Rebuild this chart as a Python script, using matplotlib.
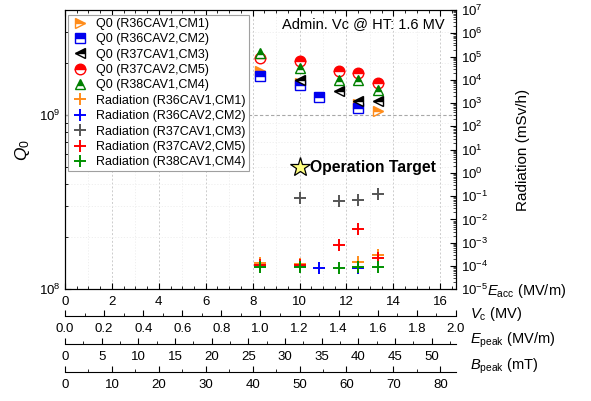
import numpy as np
import matplotlib
matplotlib.use("Agg")
import matplotlib.pyplot as plt
from matplotlib.ticker import FixedLocator, LogLocator, LogFormatterMathtext, NullFormatter, FormatStrFormatter

plt.rcParams['font.family'] = ['Liberation Sans', 'DejaVu Sans']
plt.rcParams['mathtext.fontset'] = 'custom'
plt.rcParams['mathtext.rm'] = 'Liberation Sans'
plt.rcParams['mathtext.it'] = 'Liberation Sans:italic'
plt.rcParams['mathtext.bf'] = 'Liberation Sans:bold'

# ---------------- data ----------------
cav_names = ["R36CAV1,CM1", "R36CAV2,CM2", "R37CAV1,CM3", "R37CAV2,CM5", "R38CAV1,CM4"]

q0_eacc_cm1 = [8.33, 10.0, 12.5, 13.33]
q0_cm1 = [1.78e9, 1.53e9, 1.15e9, 1.06e9]
q0_eacc_cm2 = [8.33, 10.0, 10.83, 12.5]
q0_cm2 = [1.67e9, 1.48e9, 1.26e9, 1.09e9]
q0_eacc_cm3 = [10.0, 11.67, 12.5, 13.33]
q0_cm3 = [1.58e9, 1.38e9, 1.20e9, 1.20e9]
q0_eacc_cm5 = [8.33, 10.0, 11.67, 12.5, 13.33]
q0_cm5 = [2.12e9, 2.05e9, 1.78e9, 1.74e9, 1.53e9]
q0_eacc_cm4 = [8.33, 10.0, 11.67, 12.5, 13.33]
q0_cm4 = [2.27e9, 1.86e9, 1.58e9, 1.58e9, 1.40e9]

rad_eacc_cm1 = [8.33, 10.0, 12.5, 13.33]
rad_cm1 = [1.35e-4, 1.25e-4, 1.5e-4, 2.9e-4]
rad_eacc_cm2 = [8.33, 10.0, 10.83, 12.5]
rad_cm2 = [1.15e-4, 1.0e-4, 8.0e-5, 8.6e-5]
rad_eacc_cm3 = [10.0, 11.67, 12.5, 13.33]
rad_cm3 = [0.085, 0.063, 0.072, 0.13]
rad_eacc_cm5 = [8.33, 10.0, 11.67, 12.5, 13.33]
rad_cm5 = [1.07e-4, 1.07e-4, 8.3e-4, 4.0e-3, 2.3e-4]
rad_eacc_cm4 = [8.33, 10.0, 11.67, 12.5, 13.33]
rad_cm4 = [9.0e-5, 9.0e-5, 8.5e-5, 8.8e-5, 9.0e-5]

target_eacc = 10.0
target_q0 = 5e8
target_label = "Operation Target"
admin_text = "Admin. Vc @ HT: 1.6 MV"

# axis tick values
eacc_ticks = [0, 2, 4, 6, 8, 10, 12, 14, 16]
vc_ticks = [0.0, 0.2, 0.4, 0.6, 0.8, 1.0, 1.2, 1.4, 1.6, 1.8, 2.0]
epk_ticks = [0, 5, 10, 15, 20, 25, 30, 35, 40, 45, 50]
bpk_ticks = [0, 10, 20, 30, 40, 50, 60, 70, 80]
q0_ticks = [1e8, 1e9]
rad_ticks = [1e-5, 1e-4, 1e-3, 1e-2, 1e-1, 1e0, 1e1, 1e2, 1e3, 1e4, 1e5, 1e6, 1e7]

# conversion factors for the secondary axes
L_EFF = 0.12       # m  (Vc = Eacc * L)
EPK_RATIO = 3.2    # Epeak / Eacc
BPK_RATIO = 5.0    # Bpeak / Eacc  (mT per MV/m)
EACC_MAX = 2.0 / L_EFF

q0_colors = ['#FF8C1A', '#0000EE', '#000000', '#FF0000', '#008000']
rad_colors = ['#FF8C1A', '#0000FF', '#555555', '#FF0000', '#009000']
q0_markers = ['>', 's', '<', 'o', '^']

# ---------------- figure ----------------
fig = plt.figure(figsize=(5.91, 4.01), dpi=100)
ax = fig.add_axes([0.110, 0.2785, 0.6615, 0.6965])
ax2 = ax.twinx()

TS = 9.5

def minor_between(ticks, step, vmax):
    vals = np.arange(0, vmax + 1e-9, step)
    return [v for v in vals if all(abs(v - t) > 1e-9 for t in ticks)]

# Q0 axis
ax.set_yscale('log')
ax.set_ylim(1e8, 4e9)
ax.set_xlim(0, EACC_MAX)
ax.xaxis.set_major_locator(FixedLocator(eacc_ticks))
ax.xaxis.set_minor_locator(FixedLocator(minor_between(eacc_ticks, 0.5, EACC_MAX)))
ax.yaxis.set_major_locator(FixedLocator(q0_ticks))
ax.yaxis.set_minor_locator(LogLocator(base=10, subs=np.arange(2, 10)))
ax.yaxis.set_major_formatter(LogFormatterMathtext())
ax.yaxis.set_minor_formatter(NullFormatter())
ax.tick_params(which='both', direction='in', top=True, labelsize=TS)
ax.tick_params(which='major', length=4, width=0.8)
ax.tick_params(which='minor', length=2.2, width=0.6)
ax.tick_params(axis='x', pad=5)

# grids
ax.grid(axis='x', which='major', ls=(0, (2, 2)), color='#cccccc', lw=0.7)
for xv in np.arange(1, 17, 2):
    ax.axvline(xv, ls=(0, (1.5, 2)), color='#ededed', lw=0.6, zorder=0)
ax.grid(axis='y', which='minor', ls=(0, (1.5, 2)), color='#ededed', lw=0.6)
ax.axhline(1e9, ls=(0, (3, 2)), color='#a8a8a8', lw=0.8, zorder=1)
ax.set_axisbelow(True)

ax.set_ylabel(r'$\mathit{Q}_\mathrm{0}$', fontsize=12.5, labelpad=5)

# Radiation axis
ax2.set_yscale('log')
ax2.set_ylim(1e-5, 1e7)
ax2.yaxis.set_major_locator(FixedLocator(rad_ticks))
ax2.yaxis.set_minor_locator(LogLocator(base=10, subs=np.arange(2, 10), numticks=20))
ax2.yaxis.set_major_formatter(LogFormatterMathtext())
ax2.yaxis.set_minor_formatter(NullFormatter())
ax2.tick_params(which='both', direction='in', labelsize=TS)
ax2.tick_params(which='major', length=4, width=0.8)
ax2.tick_params(which='minor', length=2, width=0.5)
ax2.set_ylabel('Radiation (mSv/h)', fontsize=11, labelpad=20)

# Q0 points
q0_x = [q0_eacc_cm1, q0_eacc_cm2, q0_eacc_cm3, q0_eacc_cm5, q0_eacc_cm4]
q0_y = [q0_cm1, q0_cm2, q0_cm3, q0_cm5, q0_cm4]
handles = []
for xs, ys, c, m, n in zip(q0_x, q0_y, q0_colors, q0_markers, cav_names):
    h, = ax.plot(xs, ys, ls='none', marker=m, ms=7.6, color=c, mec=c, mew=1.0,
                 fillstyle='top', markerfacecoloralt='white', label='Q0 (%s)' % n, zorder=4)
    handles.append(h)

# Radiation points
rad_x = [rad_eacc_cm1, rad_eacc_cm2, rad_eacc_cm3, rad_eacc_cm5, rad_eacc_cm4]
rad_y = [rad_cm1, rad_cm2, rad_cm3, rad_cm5, rad_cm4]
for xs, ys, c, n in zip(rad_x, rad_y, rad_colors, cav_names):
    h, = ax2.plot(xs, ys, ls='none', marker='+', ms=8.5, mew=1.4, color=c,
                  label='Radiation (%s)' % n, zorder=4)
    handles.append(h)
ax2.set_ylim(1e-5, 1e7)

# operation target
ax.plot([target_eacc], [target_q0], marker='*', ms=15, mfc='#FFFF80', mec='black', mew=0.9,
        ls='none', zorder=5)
ax.text(target_eacc + 0.45, target_q0, target_label, fontsize=11.3, fontweight='bold',
        va='center', ha='left', zorder=5)

ax.text(0.972, 0.975, admin_text, transform=ax.transAxes, ha='right', va='top', fontsize=10.5)

leg = ax2.legend(handles=handles, loc='upper left', bbox_to_anchor=(0.002, 0.992),
                 fontsize=9, frameon=True, fancybox=False, edgecolor='#a0a0a0',
                 framealpha=1, borderpad=0.25, labelspacing=0.27, handlelength=1.3,
                 handletextpad=0.7, borderaxespad=0.2)
leg.get_frame().set_linewidth(0.8)

ax.set_xlim(0, EACC_MAX)

# secondary x axes
LS = 10.5
def add_sec(loc, factor, ticks, minor_step, fmt, label, label_y):
    sec = ax.secondary_xaxis(loc, functions=(lambda x, f=factor: x * f, lambda v, f=factor: v / f))
    vmax = EACC_MAX * factor
    sec.xaxis.set_major_locator(FixedLocator(ticks))
    sec.xaxis.set_minor_locator(FixedLocator(minor_between(ticks, minor_step, vmax)))
    sec.xaxis.set_major_formatter(FormatStrFormatter(fmt))
    sec.tick_params(which='both', direction='in', labelsize=TS, pad=5)
    sec.tick_params(which='major', length=4, width=0.8)
    sec.tick_params(which='minor', length=2.2, width=0.6)
    ax.text(1.036, label_y, label, transform=ax.transAxes, fontsize=LS, ha='left', va='center')
    return sec

add_sec(-0.0945, L_EFF, vc_ticks, 0.1, '%.1f', r'$\mathit{V}_\mathrm{c}$ (MV)', -0.089)
add_sec(-0.196, EPK_RATIO, epk_ticks, 2.5, '%d', r'$\mathit{E}_\mathrm{peak}$ (MV/m)', -0.184)
add_sec(-0.295, BPK_RATIO, bpk_ticks, 5, '%d', r'$\mathit{B}_\mathrm{peak}$ (mT)', -0.275)
ax.text(1.08, -0.006, r'$\mathit{E}_\mathrm{acc}$ (MV/m)', transform=ax.transAxes,
        fontsize=LS, ha='left', va='center')

fig.savefig('out.png', dpi=100)
